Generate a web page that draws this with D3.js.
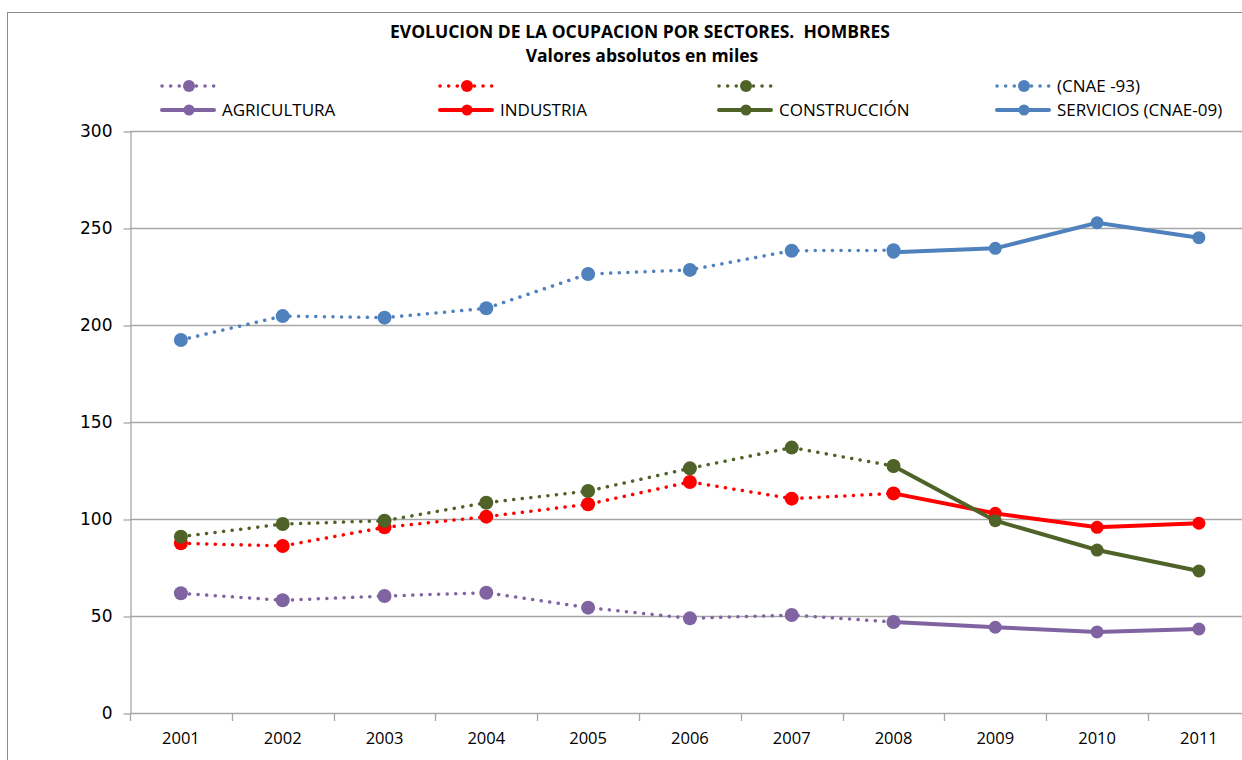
<!DOCTYPE html>
<html lang="es">
<head>
<meta charset="utf-8">
<title>Ocupacion por sectores</title>
<style>
  body { margin: 0; background: #fff; }
  .axis path, .axis line { stroke: #a6a6a6; }
</style>
</head>
<body>
<script src="https://cdn.jsdelivr.net/npm/d3@7"></script>
<script>

// data (miles)
var years = ["2001","2002","2003","2004","2005","2006","2007","2008","2009","2010","2011"];
var agri93 = [61.7, 58.1, 60.3, 62.0, 54.3, 48.8, 50.5, 46.9, null, null, null];
var agri09 = [null, null, null, null, null, null, null, 46.9, 44.2, 41.8, 43.3];
var ind93  = [87.5, 86.1, 95.7, 101.2, 107.6, 119.1, 110.5, 113.2, null, null, null];
var ind09  = [null, null, null, null, null, null, null, 113.2, 102.9, 95.7, 97.8];
var cons93 = [90.9, 97.4, 99.1, 108.4, 114.4, 126.1, 136.8, 127.3, null, null, null];
var cons09 = [null, null, null, null, null, null, null, 127.3, 99.1, 84.0, 73.2];
var serv93 = [192.3, 204.6, 203.8, 208.6, 226.3, 228.4, 238.3, 238.5, null, null, null];
var serv09 = [null, null, null, null, null, null, null, 237.5, 239.5, 252.7, 245.0];
var yTicks = [0, 50, 100, 150, 200, 250, 300];

var series = [
  {name: "",                    vals: agri93, c: "#8064a2", dot: true},
  {name: "",                    vals: ind93,  c: "#ff0000", dot: true},
  {name: "",                    vals: cons93, c: "#4f6228", dot: true},
  {name: "(CNAE -93)",          vals: serv93, c: "#4f81bd", dot: true},
  {name: "AGRICULTURA",         vals: agri09, c: "#8064a2", dot: false},
  {name: "INDUSTRIA",           vals: ind09,  c: "#ff0000", dot: false},
  {name: "CONSTRUCCIÓN",        vals: cons09, c: "#4f6228", dot: false},
  {name: "SERVICIOS (CNAE-09)", vals: serv09, c: "#4f81bd", dot: false}
];

var w = 1242, h = 760;
var svg = d3.select("body").append("svg").attr("width", w).attr("height", h);

// chart frame
svg.append("rect").attr("x", 7.5).attr("y", 12.5).attr("width", w + 10).attr("height", h + 10)
  .attr("fill", "none").attr("stroke", "#8c8c8c").attr("stroke-width", 1);

var plotLeft = 130, plotTop = 131, plotBottom = 713;
var x = d3.scaleBand().domain(years).range([plotLeft, plotLeft + 101.8 * years.length]);
var y = d3.scaleLinear().domain([0, 300]).range([plotBottom, plotTop]);

// gridlines
svg.append("g").selectAll("line").data(yTicks.slice(1)).enter().append("line")
  .attr("x1", plotLeft).attr("x2", w)
  .attr("y1", function(d){return Math.round(y(d)) + 0.5})
  .attr("y2", function(d){return Math.round(y(d)) + 0.5})
  .attr("stroke", "#a6a6a6").attr("stroke-width", 1.3);

// y axis
var ya = svg.append("g").attr("class", "axis").attr("transform", "translate(" + (plotLeft + 0.5) + ",0.5)")
  .call(d3.axisLeft(y).tickValues(yTicks).tickSize(7).tickPadding(11).tickSizeOuter(0));
ya.selectAll("text").attr("fill", "#000")
  .style("font-family", "'DejaVu Sans', Verdana, sans-serif").style("font-size", "17px");
ya.select(".domain").attr("stroke-width", 1.3);
ya.selectAll("line").attr("stroke-width", 1.3);

// x axis
var xa = svg.append("g").attr("class", "axis").attr("transform", "translate(0," + (plotBottom + 0.5) + ")")
  .call(d3.axisBottom(x).tickSize(0).tickPadding(19));
xa.selectAll("text").attr("fill", "#000")
  .style("font-family", "'Open Sans', 'Liberation Sans', sans-serif").style("font-size", "16.5px");
xa.select(".domain").remove();
svg.append("line").attr("x1", plotLeft).attr("x2", w).attr("y1", plotBottom + 0.5).attr("y2", plotBottom + 0.5)
  .attr("stroke", "#a6a6a6").attr("stroke-width", 1.3);
svg.append("g").selectAll("line").data(years).enter().append("line")
  .attr("x1", function(d){return Math.round(x(d)) + 0.5})
  .attr("x2", function(d){return Math.round(x(d)) + 0.5})
  .attr("y1", plotBottom).attr("y2", plotBottom + 8)
  .attr("stroke", "#a6a6a6").attr("stroke-width", 1.3);

// lines + markers
var line = d3.line()
  .defined(function(d){return d.v != null})
  .x(function(d){return x(d.k) + x.bandwidth() / 2})
  .y(function(d){return y(d.v)});

series.forEach(function(s) {
  var pts = years.map(function(k, i){return {k: k, v: s.vals[i]}});
  var g = svg.append("g");
  g.append("path").datum(pts).attr("d", line)
    .attr("fill", "none").attr("stroke", s.c)
    .attr("stroke-width", s.dot ? 3.5 : 4)
    .attr("stroke-linecap", "round")
    .attr("stroke-dasharray", s.dot ? "0.1 8.5" : null);
  g.selectAll("circle").data(pts.filter(function(d){return d.v != null})).enter().append("circle")
    .attr("cx", function(d){return x(d.k) + x.bandwidth() / 2})
    .attr("cy", function(d){return y(d.v)})
    .attr("r", s.dot ? 7 : 6.5)
    .attr("fill", s.c);
});

// title
var font = "'Open Sans', 'Liberation Sans', sans-serif";
svg.append("text").attr("x", 640).attr("y", 38).attr("text-anchor", "middle")
  .attr("font-family", font).attr("font-weight", "bold")
  .attr("font-size", "17.5px").style("white-space", "pre")
  .text("EVOLUCION DE LA OCUPACION POR SECTORES.  HOMBRES");
svg.append("text").attr("x", 642).attr("y", 62).attr("text-anchor", "middle")
  .attr("font-family", font).attr("font-weight", "bold")
  .attr("font-size", "17.5px").text("Valores absolutos en miles");

// legend
var legX = [160, 438, 717, 995];
var legend = svg.append("g");
series.forEach(function(s, i) {
  var lx = legX[i % 4], ly = i < 4 ? 86 : 110;
  var g = legend.append("g").attr("transform", "translate(" + lx + "," + ly + ")");
  g.append("line").attr("x1", 2).attr("x2", 54).attr("y1", 0).attr("y2", 0)
    .attr("stroke", s.c).attr("stroke-width", s.dot ? 3.5 : 4)
    .attr("stroke-linecap", "round")
    .attr("stroke-dasharray", s.dot ? "0.1 8.5" : null);
  g.append("circle").attr("cx", 29).attr("cy", 0).attr("r", s.dot ? 6 : 5.5).attr("fill", s.c);
  g.append("text").attr("x", 62).attr("y", 6)
    .attr("font-family", font).attr("font-size", "17px")
    .text(s.name);
});

</script>
</body>
</html>
